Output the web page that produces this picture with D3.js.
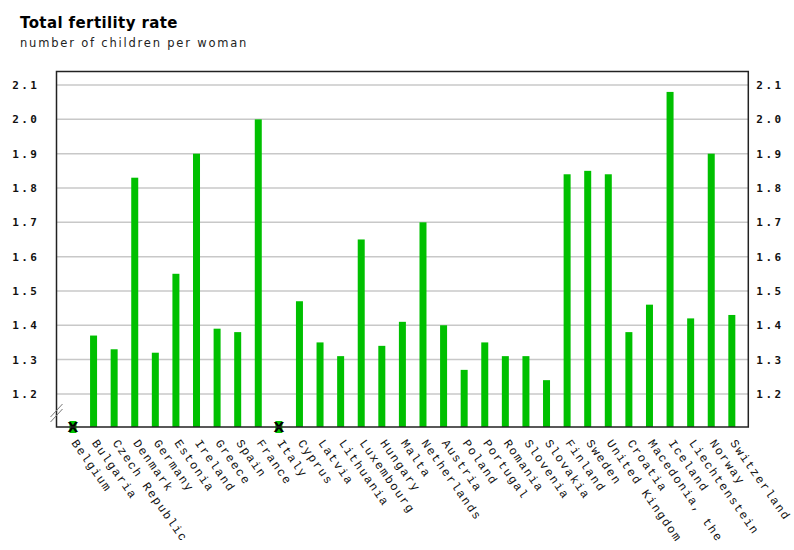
<!DOCTYPE html>
<html>
<head>
<meta charset="utf-8">
<script src="https://cdn.jsdelivr.net/npm/d3@7"></script>
<style>
  body { margin: 0; background: #fff; }
</style>
</head>
<body>
<div id="chart"></div>
<script>
const countries = ['Belgium', 'Bulgaria', 'Czech Republic', 'Denmark', 'Germany', 'Estonia', 'Ireland',
  'Greece', 'Spain', 'France', 'Italy', 'Cyprus', 'Latvia', 'Lithuania', 'Luxembourg', 'Hungary',
  'Malta', 'Netherlands', 'Austria', 'Poland', 'Portugal', 'Romania', 'Slovenia', 'Slovakia',
  'Finland', 'Sweden', 'United Kingdom', 'Croatia', 'Macedonia, the', 'Iceland', 'Liechtenstein',
  'Norway', 'Switzerland'];

// null = not available (drawn as an X)
const fertility = [null, 1.37, 1.33, 1.83, 1.32, 1.55, 1.90,
  1.39, 1.38, 2.00, null, 1.47, 1.35, 1.31, 1.65, 1.34,
  1.41, 1.70, 1.40, 1.27, 1.35, 1.31, 1.31, 1.24,
  1.84, 1.85, 1.84, 1.38, 1.46, 2.08, 1.42,
  1.90, 1.43];

const yTicks = [1.2, 1.3, 1.4, 1.5, 1.6, 1.7, 1.8, 1.9, 2.0, 2.1];

const width = 794;
const height = 550;
const plot = { left: 56.5, right: 748.3, top: 71.5, bottom: 427 };

const svg = d3.select('#chart')
  .append('svg')
  .attr('width', width)
  .attr('height', height);

const x = d3.scalePoint()
  .domain(countries)
  .range([plot.left, plot.right])
  .padding(0.8);

const y = d3.scaleLinear()
  .domain([1.1035, 2.1395])
  .range([plot.bottom, plot.top]);

// title
svg.append('text')
  .attr('x', 20)
  .attr('y', 28)
  .text('Total fertility rate')
  .style('font-family', 'DejaVu Sans, Verdana, sans-serif')
  .style('font-weight', 'bold')
  .style('font-size', '15px')
  .style('letter-spacing', '0.4px')
  .style('fill', '#000');

svg.append('text')
  .attr('x', 20)
  .attr('y', 47)
  .text('number of children per woman')
  .style('font-family', 'DejaVu Sans, Verdana, sans-serif')
  .style('font-size', '11.5px')
  .style('letter-spacing', '1.8px')
  .style('fill', '#222');

// grid
svg.append('g')
  .selectAll('line')
  .data(yTicks)
  .enter()
  .append('line')
  .attr('x1', plot.left)
  .attr('x2', plot.right)
  .attr('y1', d => y(d))
  .attr('y2', d => y(d))
  .style('stroke', '#c8c8c8')
  .style('stroke-width', 1.5);

// y axes, left and right
const tickFmt = d3.format('.1f');
const leftAxis = svg.append('g')
  .attr('transform', `translate(${plot.left},0)`)
  .call(d3.axisLeft(y).tickValues(yTicks).tickFormat(tickFmt).tickSize(0).tickPadding(17));
const rightAxis = svg.append('g')
  .attr('transform', `translate(${plot.right},0)`)
  .call(d3.axisRight(y).tickValues(yTicks).tickFormat(tickFmt).tickSize(0).tickPadding(8));

[leftAxis, rightAxis].forEach(a => {
  a.select('.domain').remove();
  a.selectAll('text')
    .style('font-family', 'DejaVu Sans Mono, monospace')
    .style('font-weight', 'bold')
    .style('font-size', '11px')
    .style('letter-spacing', '2.5px')
    .style('fill', '#111');
});

// bars
const barW = 7;
svg.append('g')
  .selectAll('rect')
  .data(countries.map((c, i) => ({ c, v: fertility[i] })).filter(d => d.v !== null))
  .enter()
  .append('rect')
  .attr('x', d => x(d.c) - barW / 2)
  .attr('y', d => y(d.v))
  .attr('width', barW)
  .attr('height', d => plot.bottom - y(d.v))
  .style('fill', '#00c000');

// missing values
const missing = svg.append('g')
  .selectAll('g')
  .data(countries.filter((c, i) => fertility[i] === null))
  .enter()
  .append('g')
  .attr('transform', d => `translate(${x(d)},${plot.bottom})`);

missing.append('rect')
  .attr('x', -barW / 2)
  .attr('y', -6)
  .attr('width', barW)
  .attr('height', 12)
  .style('fill', '#00c000');

missing.append('text')
  .attr('text-anchor', 'middle')
  .attr('y', 5)
  .text('X')
  .style('font-family', 'DejaVu Sans, sans-serif')
  .style('font-weight', 'bold')
  .style('font-size', '14px')
  .style('fill', '#000');

// frame
svg.append('rect')
  .attr('x', plot.left)
  .attr('y', plot.top)
  .attr('width', plot.right - plot.left)
  .attr('height', plot.bottom - plot.top)
  .style('fill', 'none')
  .style('stroke', '#222')
  .style('stroke-width', 1.5);

// axis break marks
svg.append('g')
  .selectAll('line')
  .data([0, 5])
  .enter()
  .append('line')
  .attr('x1', plot.left - 6)
  .attr('y1', d => plot.bottom - 10 + d)
  .attr('x2', plot.left + 6)
  .attr('y2', d => plot.bottom - 23 + d)
  .style('stroke', '#777')
  .style('stroke-width', 1);

// category labels
svg.append('g')
  .selectAll('text')
  .data(countries)
  .enter()
  .append('text')
  .attr('transform', d => `translate(${x(d) - 2},${plot.bottom + 16}) rotate(55)`)
  .text(d => d)
  .style('font-family', 'Courier New, Liberation Mono, monospace')
  .style('font-size', '12px')
  .style('letter-spacing', '1.5px')
  .style('fill', '#111');
</script>
</body>
</html>
